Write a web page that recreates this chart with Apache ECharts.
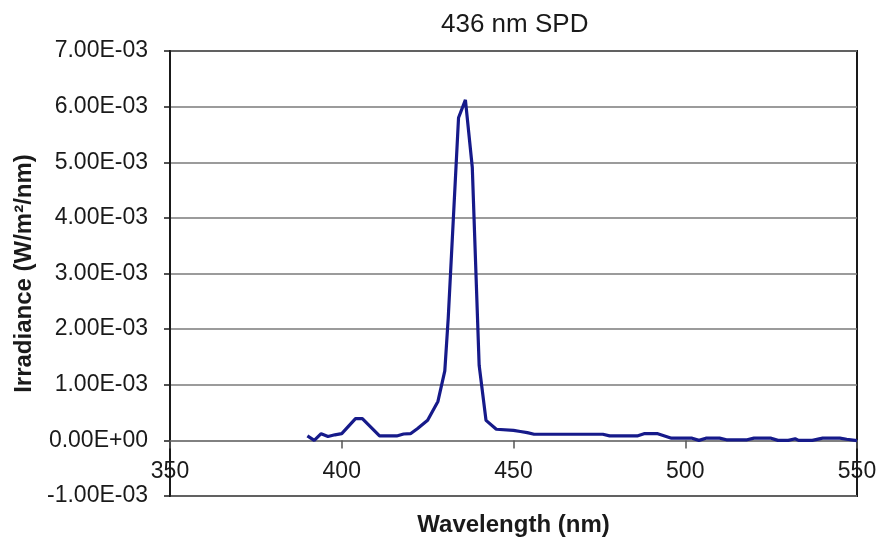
<!DOCTYPE html>
<html>
<head>
<meta charset="utf-8">
<script src="https://cdn.jsdelivr.net/npm/echarts@6/dist/echarts.min.js"></script>
<style>
  html, body { margin: 0; padding: 0; background: #fff; }
  #chart { width: 877px; height: 539px; }
</style>
</head>
<body>
<div id="chart"></div>
<script>
// Wavelength samples (nm)
const wavelengths = [390, 392, 394, 396, 398, 400, 404, 406, 411, 416, 418, 420, 422, 425, 428, 430, 431, 434, 436, 438, 440, 442, 445, 450, 452, 454, 456, 476, 478, 486, 488, 492, 496, 502, 504, 506, 510, 512, 518, 520, 525, 527, 530, 532, 533, 537, 540, 545, 547, 550];
// Irradiance (W/m^2/nm)
const irradiance = [0.00008, 0.00000, 0.00012, 0.00007, 0.00010, 0.00012, 0.00039, 0.00039, 0.00008, 0.00008, 0.000115, 0.00012, 0.00021, 0.00036, 0.00070, 0.00125, 0.00220, 0.00580, 0.00612, 0.00491, 0.00135, 0.00036, 0.00020, 0.00018, 0.00016, 0.00014, 0.00011, 0.00011, 0.00008, 0.00008, 0.00012, 0.00012, 0.00004, 0.00004, 0.00000, 0.00004, 0.00004, 0.00001, 0.00001, 0.00004, 0.00004, 0.00000, 0.00000, 0.00003, 0.00000, 0.00000, 0.00004, 0.00004, 0.00002, -0.000005];
// Axis ticks
const xTicks = [350, 400, 450, 500, 550];
const yTicks = [-0.001, 0, 0.001, 0.002, 0.003, 0.004, 0.005, 0.006, 0.007];
const titleText = '436 nm SPD';
const xName = 'Wavelength (nm)';
const yName = 'Irradiance (W/m\u00B2/nm)';

function fmtSci(v) {
  if (Math.abs(v) < 1e-12) return '0.00E+00';
  let exp = Math.floor(Math.log10(Math.abs(v)) + 1e-9);
  let mant = v / Math.pow(10, exp);
  let m = mant.toFixed(2);
  if (Math.abs(parseFloat(m)) >= 10) { exp += 1; m = (v / Math.pow(10, exp)).toFixed(2); }
  const sign = exp < 0 ? '-' : '+';
  const e = String(Math.abs(exp)).padStart(2, '0');
  return m + 'E' + sign + e;
}

const font = "'Liberation Sans', Arial, Helvetica, sans-serif";
const W = 877, H = 539;
const gridTop = 51, gridBottom = 43;
const plotH = H - gridTop - gridBottom;
const yMin = yTicks[0], yMax = yTicks[yTicks.length - 1];
// distance from bottom edge of plot to the zero line (x axis sits on zero)
const zeroOffset = plotH * (0 - yMin) / (yMax - yMin);

const chart = echarts.init(document.getElementById('chart'), null, { renderer: 'canvas' });
const seriesData = wavelengths.map((w, i) => [w, irradiance[i]]);

chart.setOption({
  animation: false,
  backgroundColor: '#ffffff',
  title: {
    text: titleText,
    left: 436,
    top: 7,
    textStyle: { fontFamily: font, fontSize: 26, fontWeight: 'normal', color: '#1a1a1a' }
  },
  grid: {
    left: 170, right: 20, top: gridTop, bottom: gridBottom,
    containLabel: false, outerBoundsMode: 'none',
    show: true, borderColor: '#1a1a1a', borderWidth: 2, backgroundColor: 'transparent'
  },
  xAxis: {
    type: 'value',
    position: 'bottom',
    offset: -zeroOffset,
    min: xTicks[0], max: xTicks[xTicks.length - 1], interval: xTicks[1] - xTicks[0],
    name: xName, nameLocation: 'middle', nameGap: 73,
    nameTextStyle: { fontFamily: font, fontSize: 24, fontWeight: 'bold', color: '#1a1a1a' },
    axisLine: { show: true, onZero: false, lineStyle: { color: '#7a7a7a', width: 1.5 } },
    axisTick: { show: true, length: 8, lineStyle: { color: '#555', width: 1.5 } },
    axisLabel: { fontFamily: font, fontSize: 23, color: '#1a1a1a', margin: 20, showMinLabel: true, showMaxLabel: true },
    splitLine: { show: false }
  },
  yAxis: {
    type: 'value',
    min: yMin, max: yMax, interval: 0.001,
    name: yName, nameLocation: 'middle', nameGap: 134,
    nameTextStyle: { fontFamily: font, fontSize: 24, fontWeight: 'bold', color: '#1a1a1a' },
    axisLine: { show: true, lineStyle: { color: '#1a1a1a', width: 2 } },
    axisTick: { show: true, length: 6, lineStyle: { color: '#1a1a1a', width: 1.5 } },
    axisLabel: { fontFamily: font, fontSize: 23, color: '#1a1a1a', margin: 22, formatter: fmtSci },
    splitLine: { show: true, lineStyle: { color: '#7a7a7a', width: 1.5 } }
  },
  series: [{
    type: 'line',
    data: seriesData,
    showSymbol: false,
    smooth: false,
    lineStyle: { color: '#161a8a', width: 3.2 },
    z: 5
  }]
});
</script>
</body>
</html>
